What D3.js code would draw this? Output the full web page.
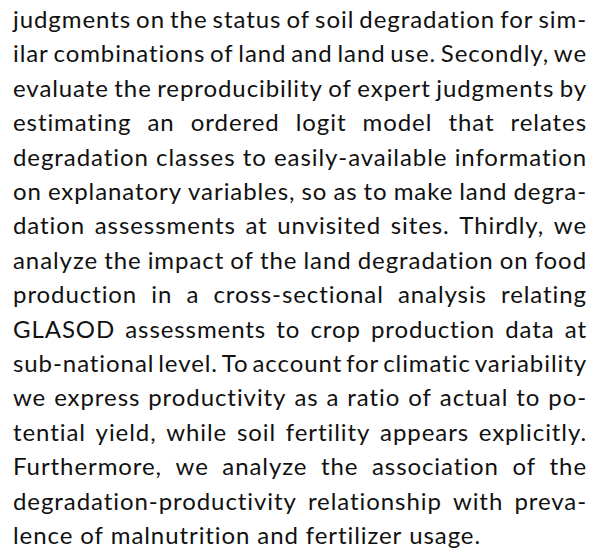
<!DOCTYPE html>
<html>
<head>
<meta charset="utf-8">
<script src="https://cdn.jsdelivr.net/npm/d3@7/dist/d3.min.js"></script>
<style>
  html, body { margin: 0; padding: 0; background: #fff; }
  svg { display: block; }
</style>
</head>
<body>
<div id="page"></div>
<script>
// paragraph lines, as broken in the reference
const lines = [
  "judgments on the status of soil degradation for sim-",
  "ilar combinations of land and land use. Secondly, we",
  "evaluate the reproducibility of expert judgments by",
  "estimating an ordered logit model that relates",
  "degradation classes to easily-available information",
  "on explanatory variables, so as to make land degra-",
  "dation assessments at unvisited sites. Thirdly, we",
  "analyze the impact of the land degradation on food",
  "production in a cross-sectional analysis relating",
  "GLASOD assessments to crop production data at",
  "sub-national level. To account for climatic variability",
  "we express productivity as a ratio of actual to po-",
  "tential yield, while soil fertility appears explicitly.",
  "Furthermore, we analyze the association of the",
  "degradation-productivity relationship with preva-",
  "lence of malnutrition and fertilizer usage."
];

const width = 598, height = 556;
const left = 13, right = 587;
const fontSize = 24;

const svg = d3.select("#page").append("svg")
  .attr("width", width)
  .attr("height", height);

// baseline of each line
const y = d3.scaleLinear()
  .domain([0, lines.length - 1])
  .range([28, 544]);

const g = svg.append("g")
  .attr("font-family", "Lato, 'Open Sans', sans-serif")
  .attr("font-size", fontSize)
  .attr("fill", "#111");

// the 5th line sits at almost natural spacing: use it to set letter-spacing
const probe = g.append("text").text(lines[4]);
const natural = probe.node().getComputedTextLength();
const ls = (right - left - natural) / lines[4].length;
probe.remove();
g.attr("letter-spacing", ls);

lines.forEach((line, i) => {
  const words = line.split(" ");
  const row = g.append("g");
  const texts = row.selectAll("text")
    .data(words)
    .join("text")
    .attr("y", y(i))
    .text(d => d);

  let widths = texts.nodes().map(n => n.getComputedTextLength());
  const last = i === lines.length - 1;
  let gap = last ? fontSize * 0.25 + ls : (right - left - d3.sum(widths)) / (words.length - 1);

  // squeeze a little if the words don't fit
  if (gap < 3) {
    const k = (right - left - 3 * (words.length - 1)) / d3.sum(widths);
    texts.attr("textLength", (d, j) => widths[j] * k).attr("lengthAdjust", "spacingAndGlyphs");
    widths = widths.map(w => w * k);
    gap = 3;
  }

  let x = left;
  texts.attr("x", (d, j) => {
    const pos = x;
    x += widths[j] + gap;
    return pos;
  });
});
</script>
</body>
</html>
